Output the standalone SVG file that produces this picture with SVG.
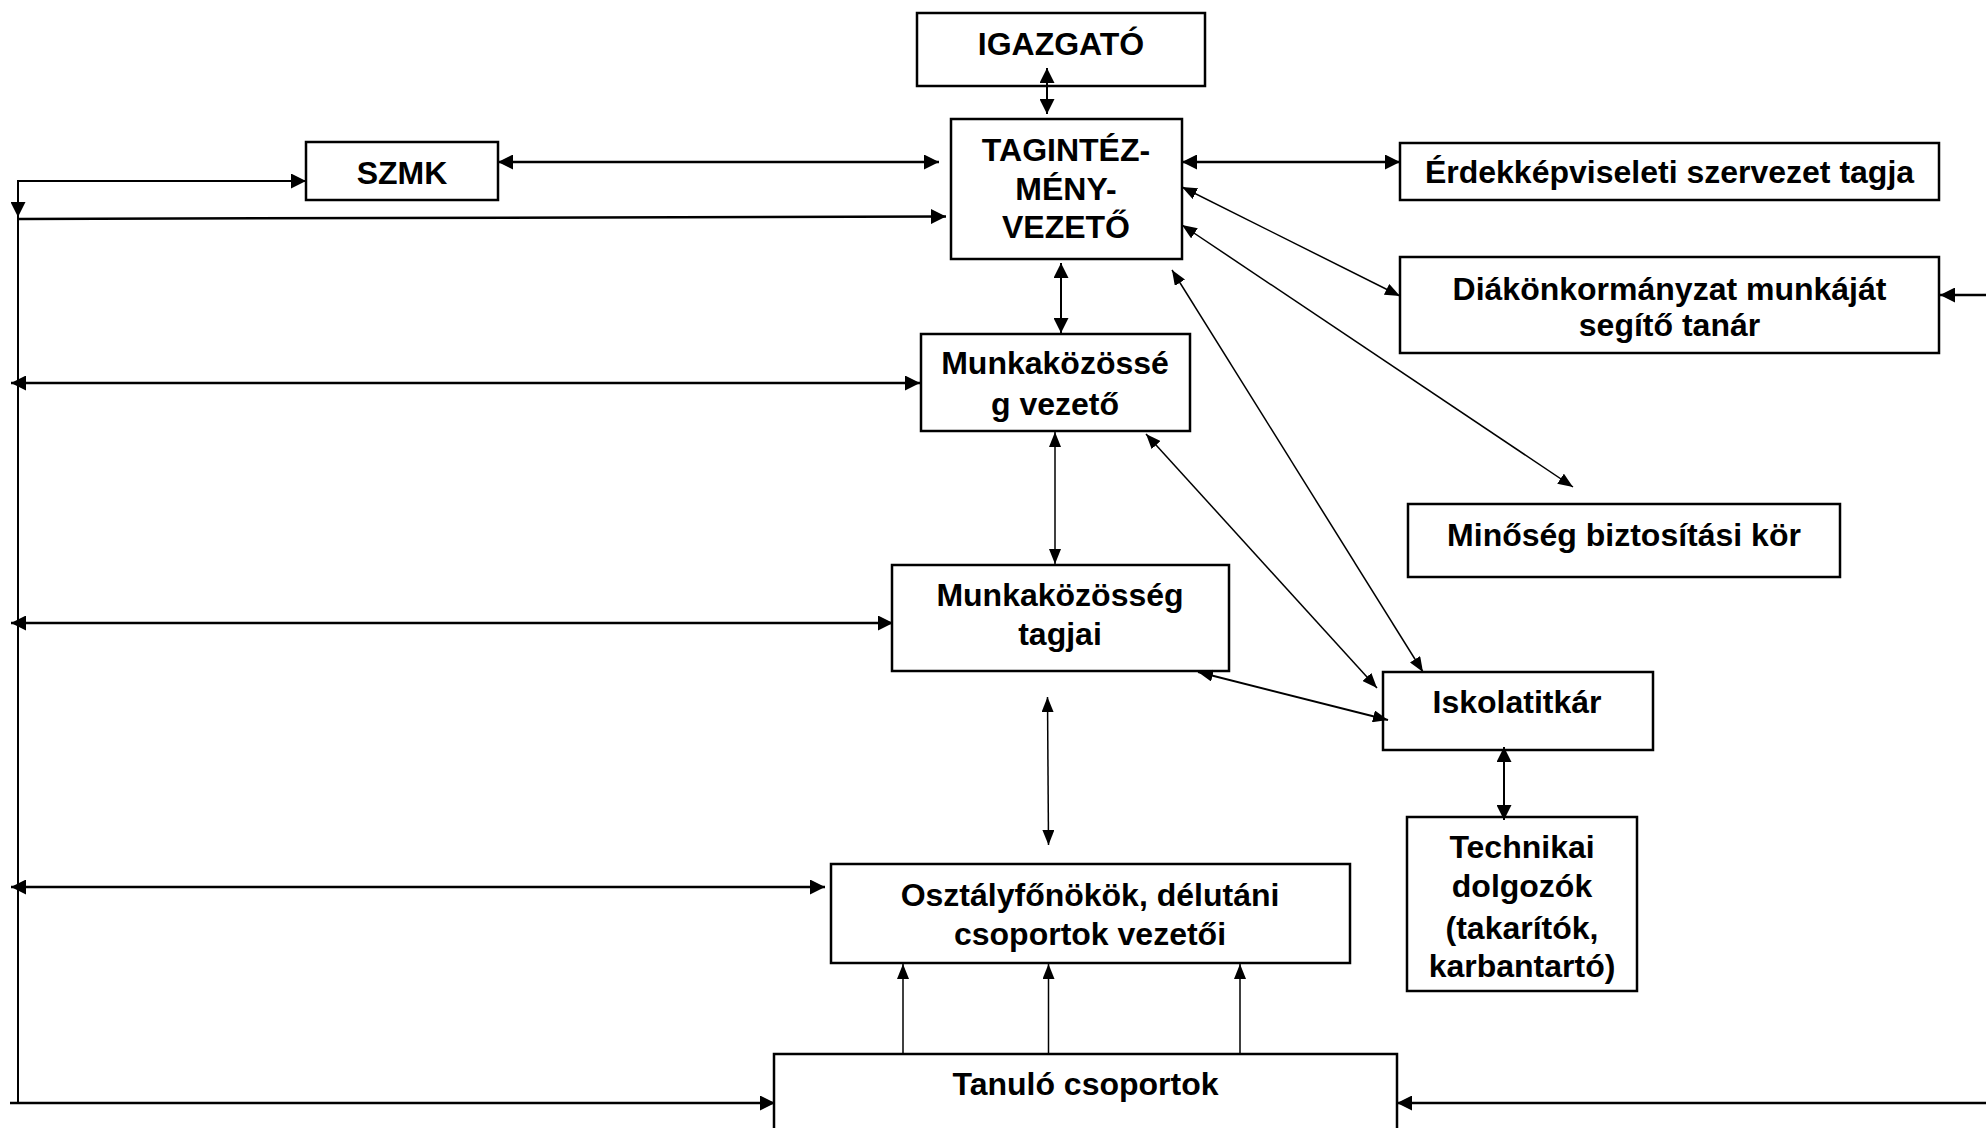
<svg xmlns="http://www.w3.org/2000/svg" width="1986" height="1128" viewBox="0 0 1986 1128">
<defs>
<style>
.box{fill:#fff;stroke:#000;stroke-width:2.5}
.t{font-family:"Liberation Sans",Arial,sans-serif;font-weight:bold;font-size:32px;text-anchor:middle;fill:#000}
.thick{stroke:#000;stroke-width:2.5;fill:none}
.mid{stroke:#000;stroke-width:2;fill:none}
.thin{stroke:#000;stroke-width:1.5;fill:none}
</style>
<marker id="ah" markerUnits="userSpaceOnUse" markerWidth="15" markerHeight="15" refX="15" refY="7.5" orient="auto-start-reverse"><path d="M0,0 L15,7.5 L0,15 z" fill="#000"/></marker>
<marker id="as" markerUnits="userSpaceOnUse" markerWidth="15" markerHeight="12" refX="15" refY="6" orient="auto-start-reverse"><path d="M0,0 L15,6 L0,12 z" fill="#000"/></marker>
</defs>
<rect width="1986" height="1128" fill="#fff"/>
<g id="igazgato"><rect class="box" x="917" y="13" width="288" height="73"/><text class="t" x="1061" y="55">IGAZGATÓ</text></g>
<g id="tagintezmenyvezeto"><rect class="box" x="951" y="119" width="231" height="140"/><text class="t" x="1066" y="161">TAGINTÉZ-</text><text class="t" x="1066" y="199.5">MÉNY-</text><text class="t" x="1066" y="238">VEZETŐ</text></g>
<g id="szmk"><rect class="box" x="306" y="142" width="192" height="58"/><text class="t" x="402" y="184">SZMK</text></g>
<g id="erdekkepviseleti"><rect class="box" x="1400" y="143" width="539" height="57"/><text class="t" x="1669.5" y="183">Érdekképviseleti szervezet tagja</text></g>
<g id="diakonkormanyzat"><rect class="box" x="1400" y="257" width="539" height="96"/><text class="t" x="1669.5" y="300">Diákönkormányzat munkáját</text><text class="t" x="1669.5" y="336">segítő tanár</text></g>
<g id="munkakozosseg-vezeto"><rect class="box" x="921" y="334" width="269" height="97"/><text class="t" x="1055" y="374">Munkaközössé</text><text class="t" x="1055" y="415">g vezető</text></g>
<g id="munkakozosseg-tagjai"><rect class="box" x="892" y="565" width="337" height="106"/><text class="t" x="1060" y="606">Munkaközösség</text><text class="t" x="1060" y="645">tagjai</text></g>
<g id="minoseg"><rect class="box" x="1408" y="504" width="432" height="73"/><text class="t" x="1624" y="546">Minőség biztosítási kör</text></g>
<g id="iskolatitkar"><rect class="box" x="1383" y="672" width="270" height="78"/><text class="t" x="1517" y="713">Iskolatitkár</text></g>
<g id="technikai"><rect class="box" x="1407" y="817" width="230" height="174"/><text class="t" x="1522" y="858">Technikai</text><text class="t" x="1522" y="897">dolgozók</text><text class="t" x="1522" y="939">(takarítók,</text><text class="t" x="1522" y="977">karbantartó)</text></g>
<g id="osztalyfonokok"><rect class="box" x="831" y="864" width="519" height="99"/><text class="t" x="1090" y="906">Osztályfőnökök, délutáni</text><text class="t" x="1090" y="945">csoportok vezetői</text></g>
<g id="tanulo-csoportok"><rect class="box" x="774" y="1054" width="623" height="100"/><text class="t" x="1085.5" y="1095">Tanuló csoportok</text></g>
<g id="connectors">
<line class="mid" x1="1047" y1="68" x2="1047" y2="114" marker-start="url(#ah)" marker-end="url(#ah)"/>
<line class="thick" x1="498" y1="162" x2="939" y2="162" marker-start="url(#ah)" marker-end="url(#ah)"/>
<path class="mid" d="M18,1103 V181 H306" marker-end="url(#ah)"/>
<line class="mid" x1="18" y1="200" x2="18" y2="217" marker-end="url(#ah)"/>
<line class="thick" x1="18" y1="219" x2="946" y2="216.5" marker-end="url(#ah)"/>
<line class="thick" x1="1182" y1="162" x2="1400" y2="162" marker-start="url(#ah)" marker-end="url(#ah)"/>
<line class="thin" x1="1182" y1="187" x2="1400" y2="296" marker-start="url(#as)" marker-end="url(#as)"/>
<line class="thin" x1="1182" y1="225" x2="1573" y2="487" marker-start="url(#as)" marker-end="url(#as)"/>
<line class="thin" x1="1172" y1="270" x2="1423" y2="672" marker-start="url(#as)" marker-end="url(#as)"/>
<line class="mid" x1="1061" y1="263" x2="1061" y2="333" marker-start="url(#ah)" marker-end="url(#ah)"/>
<line class="thick" x1="1986" y1="295" x2="1940" y2="295" marker-end="url(#ah)"/>
<line class="thick" x1="11" y1="383" x2="920" y2="383" marker-start="url(#ah)" marker-end="url(#ah)"/>
<line class="thin" x1="1055" y1="432" x2="1055" y2="564" marker-start="url(#as)" marker-end="url(#as)"/>
<line class="thin" x1="1146" y1="434" x2="1377" y2="688" marker-start="url(#as)" marker-end="url(#as)"/>
<line class="thick" x1="11" y1="623" x2="893" y2="623" marker-start="url(#ah)" marker-end="url(#ah)"/>
<line class="mid" x1="1198" y1="672" x2="1388" y2="720" marker-start="url(#as)" marker-end="url(#as)"/>
<line class="thin" x1="1047.5" y1="697" x2="1048.5" y2="845" marker-start="url(#as)" marker-end="url(#as)"/>
<line class="mid" x1="1504" y1="747" x2="1504" y2="820" marker-start="url(#ah)" marker-end="url(#ah)"/>
<line class="thick" x1="11" y1="887" x2="825" y2="887" marker-start="url(#ah)" marker-end="url(#ah)"/>
<line class="thin" x1="903" y1="1054" x2="903" y2="964" marker-end="url(#as)"/>
<line class="thin" x1="1048.5" y1="1054" x2="1048.5" y2="964" marker-end="url(#as)"/>
<line class="thin" x1="1240" y1="1054" x2="1240" y2="964" marker-end="url(#as)"/>
<line class="thick" x1="10" y1="1103" x2="775" y2="1103" marker-end="url(#ah)"/>
<line class="thick" x1="1986" y1="1103" x2="1397" y2="1103" marker-end="url(#ah)"/>
</g>
</svg>
